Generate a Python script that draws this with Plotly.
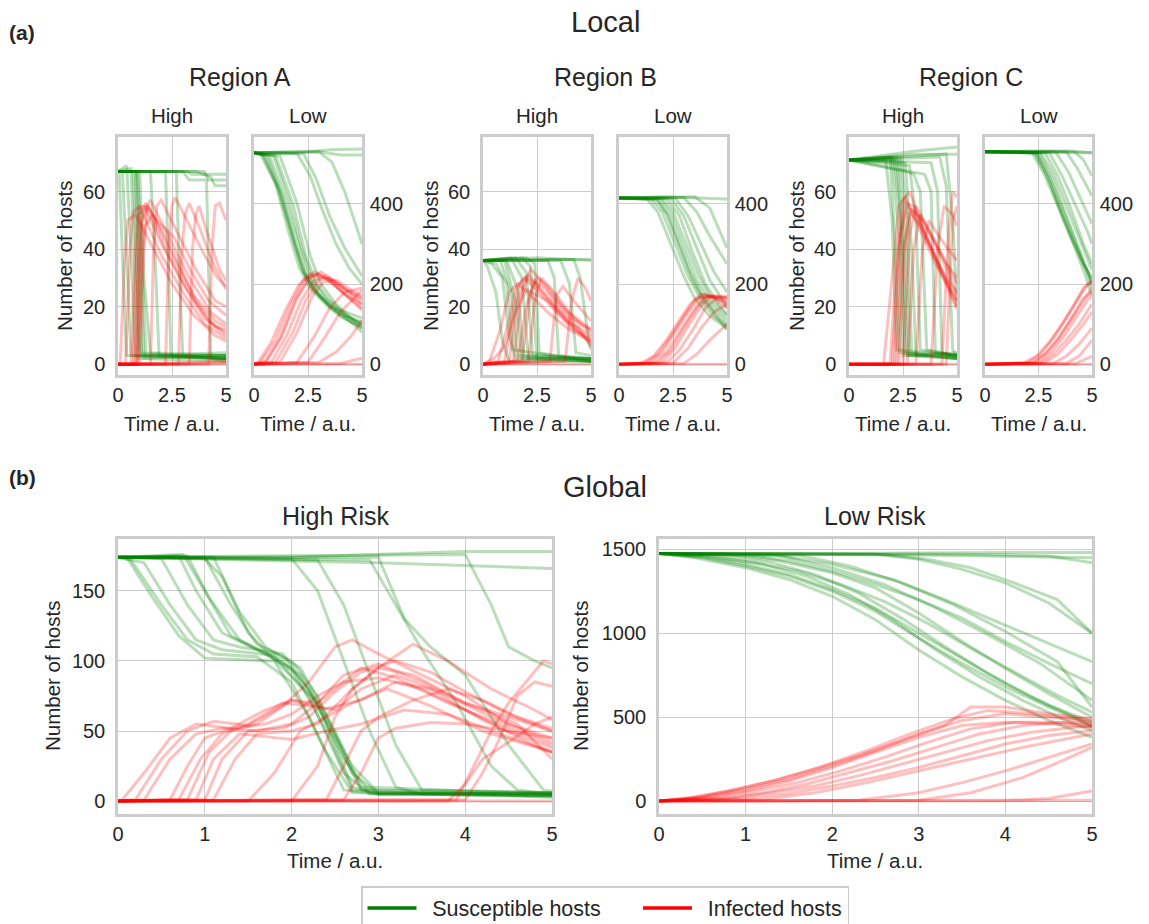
import plotly.graph_objects as go

W, H = 1149, 924
FONT = "Liberation Sans, Arial, sans-serif"
TXT = "#262626"
GRID = "#cccccc"
GREEN = "rgba(0,128,0,0.27)"
RED = "rgba(255,0,0,0.25)"

# ---------------- data (time, number of hosts) ----------------
LOCAL_X_TICKS = [0, 2.5, 5]
LOCAL_X_LABELS = ["0", "2.5", "5"]
HIGH_Y_TICKS = [0, 20, 40, 60]
LOW_Y_TICKS = [0, 200, 400]
GLOBAL_X_TICKS = [0, 1, 2, 3, 4, 5]
GH_Y_TICKS = [0, 50, 100, 150]
GL_Y_TICKS = [0, 500, 1000, 1500]
SERIES_NAMES = ["Susceptible hosts", "Infected hosts"]

A_HIGH_S = [
    [(0,67),(0.05,67),(0.3,20),(0.4,3),(5,2)],
    [(0,67),(0.2,67),(0.45,30),(0.6,3),(5,3)],
    [(0,67),(0.4,69),(0.6,40),(0.8,3),(5,2)],
    [(0,67),(0.6,68),(0.8,30),(0.95,2),(5,3)],
    [(0,67),(0.7,67),(0.85,40),(1.0,4),(5,2)],
    [(0,67),(0.8,67),(0.95,35),(1.1,3),(5,4)],
    [(0,67),(0.85,67),(1.0,40),(1.2,2),(5,1)],
    [(0,67),(0.9,67),(1.05,45),(1.3,3),(5,2)],
    [(0,67),(1.0,67),(1.2,30),(1.5,4),(5,3)],
    [(0,67),(1.5,67),(1.7,40),(1.9,3),(5,2)],
    [(0,67),(2.2,67),(2.35,30),(2.45,3),(5,2)],
    [(0,67),(2.7,67),(2.85,30),(3.0,3),(5,3)],
    [(0,67),(3.0,67),(3.3,64),(4.1,64),(4.2,30),(4.3,2),(5,1)],
    [(0,67),(3.2,67),(3.4,66),(5,66)],
    [(0,67),(4.0,67),(4.2,64),(5,64)],
    [(0,67),(3.6,67),(4.3,65),(4.5,62),(5,62)],
]
A_HIGH_I = [
    [(0,0),(0.1,0),(0.3,35),(0.45,50),(0.8,52),(1.5,42),(2.5,28),(3.5,17),(4.5,10),(5,8)],
    [(0,0),(0.35,0),(0.55,40),(0.7,53),(1.0,55),(2.0,38),(3.0,25),(4.0,14),(5,9)],
    [(0,0),(0.6,0),(0.8,40),(0.95,54),(1.2,55),(2.0,42),(3.0,28),(4.0,16),(5,10)],
    [(0,0),(0.7,0),(0.85,35),(1.0,52),(1.3,56),(2.2,40),(3.2,26),(4.2,15),(5,11)],
    [(0,0),(0.8,0),(0.95,35),(1.1,50),(1.4,55),(2.0,47),(2.8,35),(3.6,22),(4.5,13),(5,12)],
    [(0,0),(0.85,0),(1.0,35),(1.15,53),(1.5,57),(2.3,45),(3.3,30),(4.3,18),(5,14)],
    [(0,0),(0.9,0),(1.1,35),(1.25,48),(1.6,52),(2.5,38),(3.5,24),(4.5,15),(5,13)],
    [(0,0),(1.0,0),(1.2,40),(1.35,55),(1.8,50),(2.6,44),(3.4,32),(4.2,22),(5,17)],
    [(0,0),(1.5,0),(1.65,40),(1.8,55),(2.0,57),(2.8,45),(3.6,33),(4.5,22),(5,20)],
    [(0,0),(2.2,0),(2.35,40),(2.5,55),(2.65,58),(3.2,50),(4.0,38),(4.6,30),(5,27)],
    [(0,0),(2.8,0),(2.95,38),(3.1,52),(3.3,56),(3.8,47),(4.4,35),(5,26)],
    [(0,0),(3.3,0),(3.45,40),(3.6,52),(3.75,55),(4.2,44),(4.7,33),(5,29)],
    [(0,0),(4.2,0),(4.35,40),(4.5,55),(4.7,56),(5,50)],
    [(0,0),(5,0)],
    [(0,0),(5,1)],
    [(0,0),(5,0.5)],
]
A_LOW_S = [
    [(0,528),(0.3,525),(1.0,450),(1.6,330),(2.1,240),(2.6,190),(3.5,140),(4.3,110),(5,95)],
    [(0,528),(0.5,520),(1.2,430),(1.8,320),(2.3,230),(2.8,185),(3.6,140),(5,100)],
    [(0,528),(0.6,520),(1.3,420),(1.9,300),(2.4,220),(3.0,170),(4.0,120),(5,90)],
    [(0,528),(0.7,522),(1.4,420),(2.0,310),(2.5,220),(3.0,175),(4.0,125),(5,105)],
    [(0,528),(0.9,520),(1.6,410),(2.2,290),(2.7,210),(3.3,165),(4.2,120),(5,80)],
    [(0,528),(1.0,520),(1.8,400),(2.4,270),(2.9,200),(3.5,160),(4.3,120),(5,100)],
    [(0,528),(1.2,520),(2.0,400),(2.6,270),(3.1,200),(3.8,150),(5,90)],
    [(0,528),(0.4,522),(1.1,440),(1.7,330),(2.2,240),(2.7,190),(3.5,145),(5,115)],
    [(0,528),(2.0,525),(2.6,470),(3.2,380),(3.8,300),(4.4,240),(5,200)],
    [(0,528),(2.3,525),(2.9,460),(3.5,370),(4.2,290),(5,220)],
    [(0,528),(3.0,530),(3.6,505),(4.2,430),(4.7,350),(5,300)],
    [(0,528),(2.5,530),(3.5,535),(5,537)],
    [(0,528),(3.0,530),(4.0,522),(5,522)],
]
A_LOW_I = [
    [(0,0),(0.3,5),(1.0,60),(1.7,150),(2.3,210),(2.8,230),(3.5,210),(4.3,170),(5,140)],
    [(0,0),(0.5,5),(1.2,65),(1.9,160),(2.5,215),(3.0,225),(3.7,200),(4.4,165),(5,135)],
    [(0,0),(0.6,8),(1.3,70),(2.0,165),(2.6,215),(3.1,230),(3.8,205),(5,150)],
    [(0,0),(0.8,5),(1.5,70),(2.2,160),(2.8,210),(3.3,220),(4.0,195),(5,160)],
    [(0,0),(1.0,5),(1.8,80),(2.4,160),(3.0,210),(3.5,215),(4.3,185),(5,165)],
    [(0,0),(1.2,5),(2.0,80),(2.7,170),(3.2,205),(3.8,210),(4.5,185),(5,170)],
    [(0,0),(0.2,5),(0.8,55),(1.5,140),(2.1,200),(2.6,225),(3.3,215),(4.2,175),(5,150)],
    [(0,0),(2.0,5),(2.8,70),(3.5,140),(4.2,180),(5,190)],
    [(0,0),(2.5,5),(3.2,60),(4.0,130),(5,185)],
    [(0,0),(3.0,5),(3.8,30),(4.5,70),(5,110)],
    [(0,0),(5,0)],
    [(0,0),(4.0,2),(5,15)],
]
B_HIGH_S = [
    [(0,36),(0.2,34),(0.6,25),(0.9,8),(1.2,1),(5,1)],
    [(0,36),(0.4,35),(0.9,30),(1.2,10),(1.5,2),(5,1)],
    [(0,36),(0.6,35),(1.1,28),(1.4,5),(5,1)],
    [(0,36),(0.8,36),(1.3,25),(1.6,3),(5,1)],
    [(0,36),(1.0,36),(1.5,22),(1.8,2),(5,2)],
    [(0,36),(1.1,36),(1.6,26),(1.9,3),(5,2)],
    [(0,36),(1.3,37),(1.8,30),(2.1,2),(5,1)],
    [(0,36),(1.5,37),(2.0,32),(2.3,3),(5,2)],
    [(0,36),(1.8,37),(2.2,34),(2.5,2),(5,2)],
    [(0,36),(2.0,37),(2.4,35),(2.6,4),(5,1)],
    [(0,36),(3.0,36),(3.3,30),(3.5,3),(5,2)],
    [(0,36),(3.6,36),(4.0,28),(4.3,4),(5,3)],
    [(0,36),(4.2,36.5),(4.5,30),(4.9,8),(5,5)],
    [(0,36),(5,36.5)],
    [(0,36),(2.5,37),(5,36)],
]
B_HIGH_I = [
    [(0,0),(0.3,1),(0.8,12),(1.2,25),(1.6,28),(2.2,24),(3.0,18),(4.0,12),(5,8)],
    [(0,0),(0.7,1),(1.2,15),(1.5,26),(1.9,30),(2.6,25),(3.4,18),(4.2,12),(5,9)],
    [(0,0),(1.0,1),(1.4,18),(1.7,28),(2.1,31),(2.8,25),(3.6,18),(4.5,11),(5,8)],
    [(0,0),(1.2,1),(1.6,22),(2.0,30),(2.4,28),(3.1,22),(3.9,15),(5,10)],
    [(0,0),(1.4,1),(1.8,24),(2.2,33),(2.6,30),(3.3,23),(4.1,16),(5,12)],
    [(0,0),(1.6,1),(2.0,20),(2.4,29),(2.9,26),(3.6,19),(4.4,13),(5,6)],
    [(0,0),(1.8,1),(2.2,25),(2.5,30),(3.0,27),(3.7,20),(4.5,14),(5,11)],
    [(0,0),(2.1,1),(2.4,22),(2.7,30),(3.2,26),(4.0,18),(5,12)],
    [(0,0),(3.1,1),(3.4,24),(3.7,27),(4.2,22),(5,15)],
    [(0,0),(3.8,1),(4.1,22),(4.4,30),(4.7,27),(5,22)],
    [(0,0),(0.5,2),(1.0,6),(1.5,18),(2.0,26),(3.0,22),(4.0,14),(5,7)],
    [(0,0),(5,0)],
]
B_LOW_S = [
    [(0,415),(1.3,412),(1.8,380),(2.4,300),(3.0,220),(3.5,165),(4.2,120),(5,90)],
    [(0,415),(1.5,412),(2.0,380),(2.6,300),(3.2,220),(3.8,160),(4.4,120),(5,95)],
    [(0,415),(1.7,413),(2.2,375),(2.8,290),(3.4,210),(4.0,155),(5,100)],
    [(0,415),(1.9,413),(2.4,375),(3.0,290),(3.6,210),(4.2,155),(5,110)],
    [(0,415),(2.0,414),(2.5,380),(3.1,300),(3.7,220),(4.3,160),(5,120)],
    [(0,415),(2.2,414),(2.8,370),(3.4,280),(4.0,200),(4.6,150),(5,125)],
    [(0,415),(2.4,414),(3.0,370),(3.6,290),(4.2,210),(4.8,160),(5,140)],
    [(0,415),(2.6,415),(3.2,370),(3.8,300),(4.4,230),(5,180)],
    [(0,415),(3.0,416),(3.6,380),(4.2,320),(5,250)],
    [(0,415),(3.5,418),(4.2,390),(5,290)],
    [(0,415),(2.0,418),(5,412)],
    [(0,415),(1.8,410),(2.3,370),(2.8,300),(3.3,230),(3.8,175),(4.5,120),(5,85)],
]
B_LOW_I = [
    [(0,0),(1.2,3),(1.8,25),(2.4,70),(3.0,120),(3.5,160),(4.0,175),(4.5,165),(5,150)],
    [(0,0),(1.4,3),(2.0,30),(2.6,80),(3.2,130),(3.7,165),(4.2,170),(5,155)],
    [(0,0),(1.6,3),(2.2,30),(2.8,80),(3.4,130),(3.9,165),(4.4,170),(5,160)],
    [(0,0),(1.8,3),(2.4,35),(3.0,90),(3.6,140),(4.1,170),(4.6,170),(5,165)],
    [(0,0),(2.0,3),(2.6,40),(3.2,95),(3.8,145),(4.3,170),(5,165)],
    [(0,0),(2.2,3),(2.8,35),(3.4,85),(4.0,140),(4.5,165),(5,170)],
    [(0,0),(1.0,2),(1.6,20),(2.2,60),(2.8,110),(3.3,150),(3.8,175),(4.4,165),(5,140)],
    [(0,0),(2.5,3),(3.2,40),(3.8,90),(4.4,130),(5,150)],
    [(0,0),(3.0,2),(3.6,25),(4.2,60),(4.7,85),(5,100)],
    [(0,0),(5,0)],
]
C_HIGH_S = [
    [(0,71),(1.7,71),(2.0,50),(2.2,5),(5,3)],
    [(0,71),(1.9,72),(2.15,40),(2.35,4),(5,2)],
    [(0,71),(2.0,72),(2.3,45),(2.5,3),(5,3)],
    [(0,71),(2.1,71),(2.4,50),(2.6,4),(5,2)],
    [(0,71),(2.2,72),(2.5,40),(2.7,3),(5,4)],
    [(0,71),(2.3,71),(2.6,45),(2.8,3),(5,2)],
    [(0,71),(2.4,72),(2.7,50),(2.9,4),(5,3)],
    [(0,71),(2.6,70),(2.9,40),(3.1,3),(5,2)],
    [(0,71),(2.8,69),(3.1,50),(3.3,5),(5,3)],
    [(0,71),(2.6,67),(3.0,66),(3.3,60),(3.6,5),(5,3)],
    [(0,71),(2.8,67),(3.5,66),(3.8,60),(4.0,4),(5,3)],
    [(0,71),(3.8,70),(4.1,60),(4.3,4),(5,2)],
    [(0,71),(4.2,72),(4.5,62),(4.8,5),(5,3)],
    [(0,71),(4.5,73),(4.8,50),(5,20)],
    [(0,71),(2.0,73),(3.0,74),(5,75.5)],
    [(0,71),(3.0,73),(5,73)],
]
C_HIGH_I = [
    [(0,0),(1.6,0),(2.0,30),(2.3,55),(2.6,58),(3.2,48),(4.0,35),(4.6,27),(5,22)],
    [(0,0),(1.9,0),(2.2,35),(2.5,57),(2.8,60),(3.4,48),(4.2,34),(5,22)],
    [(0,0),(2.0,0),(2.3,40),(2.6,56),(3.0,55),(3.6,44),(4.3,32),(5,20)],
    [(0,0),(2.1,0),(2.4,45),(2.7,55),(3.1,52),(3.8,40),(4.5,28),(5,19)],
    [(0,0),(2.2,0),(2.5,40),(2.8,53),(3.3,48),(4.0,37),(4.6,29),(5,25)],
    [(0,0),(2.3,0),(2.6,42),(2.9,54),(3.4,50),(4.1,40),(4.7,30),(5,24)],
    [(0,0),(2.5,0),(2.8,45),(3.1,55),(3.6,48),(4.3,38),(5,28)],
    [(0,0),(2.7,0),(3.0,40),(3.3,52),(3.8,45),(4.5,35),(5,30)],
    [(0,0),(3.1,0),(3.4,40),(3.7,50),(4.2,44),(5,36)],
    [(0,0),(3.8,0),(4.1,40),(4.4,55),(4.8,52),(5,48)],
    [(0,0),(4.3,0),(4.6,45),(4.8,60),(5,58)],
    [(0,0),(4.5,0),(4.8,50),(5,55)],
    [(0,0),(5,0)],
]
C_LOW_S = [
    [(0,530),(2.3,528),(2.9,470),(3.5,390),(4.1,310),(4.6,250),(5,210)],
    [(0,530),(2.4,528),(3.0,470),(3.6,390),(4.2,310),(4.7,240),(5,200)],
    [(0,530),(2.5,528),(3.1,470),(3.7,385),(4.3,300),(4.8,230),(5,190)],
    [(0,530),(2.6,528),(3.2,475),(3.8,395),(4.4,315),(4.9,250),(5,235)],
    [(0,530),(2.2,528),(2.8,470),(3.4,395),(4.0,320),(4.6,250),(5,215)],
    [(0,530),(2.8,528),(3.4,470),(4.0,390),(4.6,300),(5,250)],
    [(0,530),(3.0,528),(3.6,470),(4.2,400),(4.8,330),(5,300)],
    [(0,530),(3.3,530),(3.9,480),(4.5,410),(5,350)],
    [(0,530),(3.8,530),(4.3,490),(5,420)],
    [(0,530),(4.2,530),(4.6,510),(5,470)],
    [(0,530),(5,528)],
    [(0,530),(2.0,532),(4.0,532),(5,528)],
    [(0,530),(2.4,526),(3.0,460),(3.6,370),(4.2,290),(4.7,220),(5,170)],
]
C_LOW_I = [
    [(0,0),(1.8,3),(2.4,20),(3.0,55),(3.6,100),(4.2,150),(4.6,190),(5,205)],
    [(0,0),(2.0,3),(2.6,25),(3.2,65),(3.8,115),(4.3,160),(4.8,200),(5,210)],
    [(0,0),(2.2,3),(2.8,25),(3.4,60),(4.0,110),(4.5,150),(5,190)],
    [(0,0),(2.3,3),(2.9,30),(3.5,70),(4.1,120),(4.6,165),(5,180)],
    [(0,0),(2.5,3),(3.1,30),(3.7,70),(4.3,120),(4.8,160),(5,170)],
    [(0,0),(2.6,3),(3.2,25),(3.8,60),(4.4,100),(5,150)],
    [(0,0),(2.8,3),(3.4,25),(4.0,60),(4.6,100),(5,130)],
    [(0,0),(3.2,2),(3.8,20),(4.4,50),(5,90)],
    [(0,0),(3.8,2),(4.4,20),(5,60)],
    [(0,0),(5,0)],
    [(0,0),(4.2,1),(5,20)],
]
G_HIGH_S = [
    [(0,174),(0.1,174),(0.4,145),(0.7,118),(1.0,102),(1.5,101),(1.8,100),(2.2,60),(2.6,8),(3.0,5),(5,4)],
    [(0,174),(0.15,172),(0.5,140),(0.8,115),(1.1,105),(1.6,103),(2.0,85),(2.4,35),(2.7,6),(5,5)],
    [(0,174),(0.3,170),(0.6,140),(0.9,115),(1.2,108),(1.8,104),(2.2,75),(2.6,20),(2.9,5),(5,6)],
    [(0,174),(0.5,173),(0.8,140),(1.1,115),(1.4,110),(1.9,105),(2.3,70),(2.7,10),(3.0,5),(5,4)],
    [(0,174),(0.7,175),(0.9,150),(1.2,120),(1.6,108),(2.0,95),(2.4,50),(2.7,8),(5,6)],
    [(0,174),(0.75,176),(1.0,150),(1.3,118),(1.7,105),(2.1,90),(2.5,45),(2.8,8),(5,3)],
    [(0,174),(0.8,175),(1.05,145),(1.4,115),(1.9,100),(2.2,80),(2.6,30),(2.9,6),(5,5)],
    [(0,174),(1.0,174),(1.3,140),(1.6,112),(2.0,100),(2.3,75),(2.7,20),(3.0,5),(5,5)],
    [(0,174),(1.1,174),(1.4,135),(1.7,110),(2.1,95),(2.5,50),(2.8,10),(5,5)],
    [(0,174),(1.0,173),(1.2,160),(1.5,120),(1.9,95),(2.3,70),(2.7,25),(3.0,6),(5,4)],
    [(0,174),(2.0,173),(2.3,150),(2.6,100),(2.9,50),(3.2,10),(3.5,5),(5,3)],
    [(0,174),(2.3,172),(2.6,140),(2.9,90),(3.2,40),(3.5,8),(5,6)],
    [(0,174),(2.9,172),(3.2,140),(3.5,108),(3.9,70),(4.3,25),(4.6,8),(5,5)],
    [(0,174),(3.0,174),(3.3,130),(3.6,110),(4.0,90),(4.5,40),(4.9,8),(5,7)],
    [(0,174),(4.0,176),(4.3,140),(4.5,110),(4.8,100),(5,95)],
    [(0,174),(2.0,174),(4.0,178),(5,178)],
    [(0,174),(3.0,170),(5,166)],
]
G_HIGH_I = [
    [(0,0),(0.05,1),(0.3,20),(0.6,45),(0.9,55),(1.3,52),(1.7,55),(2.0,62),(2.3,75),(2.6,85),(3.0,88),(3.5,80),(4.0,65),(4.5,50),(5,38)],
    [(0,0),(0.2,1),(0.5,30),(0.8,50),(1.1,57),(1.5,54),(1.9,68),(2.2,85),(2.5,110),(2.7,115),(3.0,105),(3.5,90),(4.0,75),(4.5,55),(5,45)],
    [(0,0),(0.3,1),(0.6,30),(0.9,48),(1.2,52),(1.6,50),(2.0,55),(2.4,75),(2.8,95),(3.2,88),(3.8,70),(4.4,55),(5,40)],
    [(0,0),(0.6,1),(0.8,25),(1.0,45),(1.3,52),(1.7,65),(2.0,72),(2.3,70),(2.6,90),(3.0,98),(3.5,85),(4.0,70),(4.5,60),(5,50)],
    [(0,0),(0.7,1),(0.95,30),(1.2,48),(1.5,55),(1.9,70),(2.2,68),(2.5,65),(2.8,80),(3.2,90),(3.7,78),(4.3,60),(5,42)],
    [(0,0),(0.8,1),(1.05,35),(1.3,50),(1.6,55),(2.0,72),(2.4,66),(2.8,72),(3.2,85),(3.6,80),(4.2,58),(4.8,40),(5,35)],
    [(0,0),(0.9,1),(1.1,30),(1.4,48),(1.7,46),(2.0,44),(2.4,50),(2.8,55),(3.3,65),(3.8,62),(4.4,48),(5,35)],
    [(0,0),(1.0,1),(1.2,30),(1.5,50),(1.9,52),(2.2,60),(2.5,78),(2.8,92),(3.2,100),(3.6,92),(4.0,78),(4.5,62),(5,50)],
    [(0,0),(1.1,1),(1.35,30),(1.6,48),(2.0,50),(2.3,55),(2.7,80),(3.0,95),(3.4,112),(3.8,100),(4.3,80),(4.8,65),(5,58)],
    [(0,0),(1.5,0),(1.8,20),(2.1,50),(2.4,60),(2.7,70),(3.1,80),(3.6,68),(4.2,50),(5,35)],
    [(0,0),(2.4,1),(2.6,25),(2.8,50),(3.0,60),(3.4,72),(3.8,80),(4.2,72),(4.6,60),(5,52)],
    [(0,0),(2.6,1),(2.8,20),(3.0,45),(3.2,52),(3.6,56),(4.0,55),(4.5,50),(5,45)],
    [(0,0),(3.9,1),(4.1,25),(4.3,50),(4.5,70),(4.7,85),(4.9,100),(5,98)],
    [(0,0),(4.0,1),(4.2,20),(4.4,45),(4.6,75),(4.8,85),(5,82)],
    [(0,0),(2.0,0),(2.3,25),(2.5,60),(2.7,80),(3.0,95),(3.4,90),(4.0,70),(4.6,55),(5,30)],
    [(0,0),(3.8,0),(4.0,12),(4.2,30),(4.5,42),(4.8,55),(5,60)],
    [(0,0),(5,0)],
]
G_LOW_S = [
    [(0,1475),(0.5,1450),(1.0,1400),(1.5,1340),(2.0,1250),(2.5,1130),(3.0,970),(3.5,820),(4.0,680),(4.5,560),(5,450)],
    [(0,1475),(0.5,1455),(1.0,1410),(1.5,1350),(2.0,1260),(2.5,1150),(3.0,1000),(3.5,850),(4.0,700),(4.5,570),(5,470)],
    [(0,1475),(0.6,1460),(1.2,1410),(1.7,1340),(2.2,1230),(2.7,1080),(3.2,900),(3.7,740),(4.2,600),(4.7,480),(5,420)],
    [(0,1475),(0.7,1465),(1.3,1420),(1.8,1350),(2.3,1240),(2.8,1090),(3.3,920),(3.8,760),(4.3,620),(4.8,500),(5,440)],
    [(0,1475),(0.8,1470),(1.4,1430),(2.0,1360),(2.5,1270),(3.0,1120),(3.5,950),(4.0,790),(4.5,640),(5,500)],
    [(0,1475),(0.4,1450),(1.0,1390),(1.5,1320),(2.0,1220),(2.5,1080),(3.0,900),(3.5,740),(4.0,600),(4.5,480),(5,380)],
    [(0,1475),(0.5,1460),(1.1,1420),(1.6,1370),(2.1,1290),(2.6,1190),(3.1,1060),(3.6,910),(4.1,770),(4.6,630),(5,530)],
    [(0,1475),(1.0,1465),(1.5,1430),(2.0,1370),(2.5,1290),(3.0,1200),(3.5,1090),(4.0,950),(4.5,820),(5,700)],
    [(0,1475),(1.3,1470),(2.0,1410),(2.7,1320),(3.3,1200),(3.9,1070),(4.5,940),(5,830)],
    [(0,1475),(2.5,1470),(3.0,1440),(3.5,1380),(4.0,1300),(4.5,1180),(5,1000)],
    [(0,1475),(2.6,1468),(3.1,1440),(3.6,1390),(4.1,1300),(4.6,1200),(5,1000)],
    [(0,1475),(2.5,1470),(3.5,1470),(4.5,1460),(5,1420)],
    [(0,1475),(2.0,1475),(4.0,1480),(5,1480)],
    [(0,1475),(3.0,1465),(5,1450)],
    [(0,1475),(1.4,1460),(2.0,1390),(2.6,1290),(3.2,1150),(3.8,990),(4.4,820),(5,600)],
    [(0,1475),(1.6,1465),(2.2,1400),(2.8,1300),(3.4,1170),(4.0,1010),(4.6,830),(5,560)],
]
G_LOW_I = [
    [(0,0),(0.5,20),(1.0,60),(1.5,120),(2.0,200),(2.5,290),(3.0,380),(3.5,450),(4.0,470),(4.5,460),(5,440)],
    [(0,0),(0.5,25),(1.0,70),(1.5,130),(2.0,210),(2.5,300),(3.0,400),(3.5,480),(4.0,520),(4.5,500),(5,470)],
    [(0,0),(0.6,20),(1.1,60),(1.6,110),(2.1,180),(2.6,260),(3.1,350),(3.6,430),(4.1,470),(4.6,470),(5,450)],
    [(0,0),(0.7,15),(1.2,50),(1.7,100),(2.2,170),(2.7,240),(3.2,320),(3.7,400),(4.2,450),(4.7,470),(5,460)],
    [(0,0),(0.4,20),(0.9,70),(1.4,130),(1.9,210),(2.4,300),(2.9,400),(3.4,490),(3.8,540),(4.3,520),(5,480)],
    [(0,0),(0.8,15),(1.3,50),(1.8,90),(2.3,150),(2.8,220),(3.3,290),(3.8,360),(4.3,410),(4.8,440),(5,445)],
    [(0,0),(1.0,15),(1.5,45),(2.0,90),(2.5,140),(3.0,200),(3.5,270),(4.0,340),(4.5,390),(5,420)],
    [(0,0),(1.2,10),(1.8,50),(2.4,110),(3.0,180),(3.6,250),(4.2,320),(4.8,380),(5,400)],
    [(0,0),(2.3,5),(3.0,50),(3.5,110),(4.0,180),(4.5,260),(5,340)],
    [(0,0),(3.0,5),(3.6,50),(4.2,140),(4.7,250),(5,320)],
    [(0,0),(0.3,15),(0.8,60),(1.3,120),(1.8,190),(2.3,270),(2.8,360),(3.3,450),(3.6,560),(4.0,560),(4.5,520),(5,490)],
    [(0,0),(4.0,2),(4.5,15),(5,60)],
    [(0,0),(5,5)],
]

# ---------------- layout geometry (pixels) ----------------
def xd(a, b):
    return [a / W, b / W]

def yd(top, bottom):
    return [1 - bottom / H, 1 - top / H]

TOP_Y = (137, 375)
BOT_Y = (539, 814)
PANELS = [
    # (x0, x1, ytop, ybottom, kind, sus, inf)
    (118, 226, *TOP_Y, "high", A_HIGH_S, A_HIGH_I),
    (254, 362, *TOP_Y, "low", A_LOW_S, A_LOW_I),
    (483, 591, *TOP_Y, "high", B_HIGH_S, B_HIGH_I),
    (619, 727, *TOP_Y, "low", B_LOW_S, B_LOW_I),
    (849, 957, *TOP_Y, "high", C_HIGH_S, C_HIGH_I),
    (985, 1092, *TOP_Y, "low", C_LOW_S, C_LOW_I),
    (118, 552, *BOT_Y, "ghigh", G_HIGH_S, G_HIGH_I),
    (659, 1092, *BOT_Y, "glow", G_LOW_S, G_LOW_I),
]

fig = go.Figure()
layout = {}
base_axis = dict(showline=True, linecolor=GRID, linewidth=2.5, mirror=True,
                 showgrid=True, gridcolor=GRID, gridwidth=1.3, zeroline=False,
                 ticks="", tickfont=dict(size=20, color=TXT, family=FONT),
                 fixedrange=True, automargin=False)

for i, (x0, x1, yt, yb, kind, sus, inf) in enumerate(PANELS, start=1):
    xa = "x" if i == 1 else f"x{i}"
    ya = "y" if i == 1 else f"y{i}"
    xax = dict(base_axis, domain=xd(x0, x1), anchor=ya, range=[0, 5], ticklabelstandoff=0)
    yax = dict(base_axis, domain=yd(yt, yb), anchor=xa, ticklabelstandoff=6)
    if kind in ("high", "low"):
        xax.update(tickvals=LOCAL_X_TICKS, ticktext=LOCAL_X_LABELS)
    else:
        xax.update(tickvals=GLOBAL_X_TICKS)
    if kind == "high":
        yax.update(tickvals=HIGH_Y_TICKS, range=[-3.76, 78.96])
    elif kind == "low":
        yax.update(tickvals=LOW_Y_TICKS, range=[-27, 567], side="right", ticklabelstandoff=1)
    elif kind == "ghigh":
        yax.update(tickvals=GH_Y_TICKS, range=[-9.2, 187])
    else:
        yax.update(tickvals=GL_Y_TICKS, range=[-77, 1561])
    layout["xaxis" if i == 1 else f"xaxis{i}"] = xax
    layout["yaxis" if i == 1 else f"yaxis{i}"] = yax
    for curve in sus:
        fig.add_trace(go.Scatter(x=[p[0] for p in curve], y=[p[1] for p in curve],
                                 mode="lines", line=dict(color=GREEN, width=3),
                                 xaxis=xa, yaxis=ya, showlegend=False, hoverinfo="skip"))
    for curve in inf:
        fig.add_trace(go.Scatter(x=[p[0] for p in curve], y=[p[1] for p in curve],
                                 mode="lines", line=dict(color=RED, width=3),
                                 xaxis=xa, yaxis=ya, showlegend=False, hoverinfo="skip"))

# legend entries (spacing via en-spaces)
fig.add_trace(go.Scatter(x=[None], y=[None], mode="lines",
                         name="\u2002" + SERIES_NAMES[0] + "\u2002\u2002\u2002",
                         line=dict(color="green", width=3.5), xaxis="x", yaxis="y"))
fig.add_trace(go.Scatter(x=[None], y=[None], mode="lines",
                         name="\u2002" + SERIES_NAMES[1],
                         line=dict(color="red", width=3.5), xaxis="x", yaxis="y"))

ann = []

def text(x, y, s, size, bold=False, angle=0, xanchor="center"):
    ann.append(dict(x=x / W, y=1 - y / H, xref="paper", yref="paper",
                    text=f"<b>{s}</b>" if bold else s,
                    showarrow=False, xanchor=xanchor, yanchor="middle", textangle=angle,
                    font=dict(size=size, color=TXT, family=FONT)))

text(7, 32, "(a)", 21, bold=True, xanchor="left")
text(605, 22, "Local", 29)
for cx, name in [(240, "Region A"), (605, "Region B"), (971, "Region C")]:
    text(cx, 77, name, 25)
for (x0, x1, yt, yb, kind, _s, _i) in PANELS[:6]:
    cx = (x0 + x1) / 2
    text(cx, 115, "High" if kind == "high" else "Low", 20.5)
    text(cx, 423, "Time / a.u.", 20.5)
for xl in (65, 431, 797):
    text(xl, 256, "Number of hosts", 20.5, angle=-90)
text(7, 477, "(b)", 21, bold=True, xanchor="left")
text(605, 487, "Global", 29)
text(335, 516, "High Risk", 25)
text(875, 516, "Low Risk", 25)
text(335, 860, "Time / a.u.", 20.5)
text(875, 860, "Time / a.u.", 20.5)
text(52, 676, "Number of hosts", 20.5, angle=-90)
text(580, 676, "Number of hosts", 20.5, angle=-90)

fig.update_layout(
    width=W, height=H, margin=dict(l=0, r=0, t=0, b=0, autoexpand=False),
    paper_bgcolor="white", plot_bgcolor="white",
    font=dict(family=FONT, color=TXT),
    annotations=ann,
    legend=dict(orientation="h", x=605 / W, xanchor="center", y=1 - 886 / H, yanchor="top",
                bordercolor=GRID, borderwidth=1.5, bgcolor="white",
                font=dict(size=21.5, color=TXT, family=FONT), itemwidth=49),
    showlegend=True,
    **layout,
)

fig.write_html("out.html")
